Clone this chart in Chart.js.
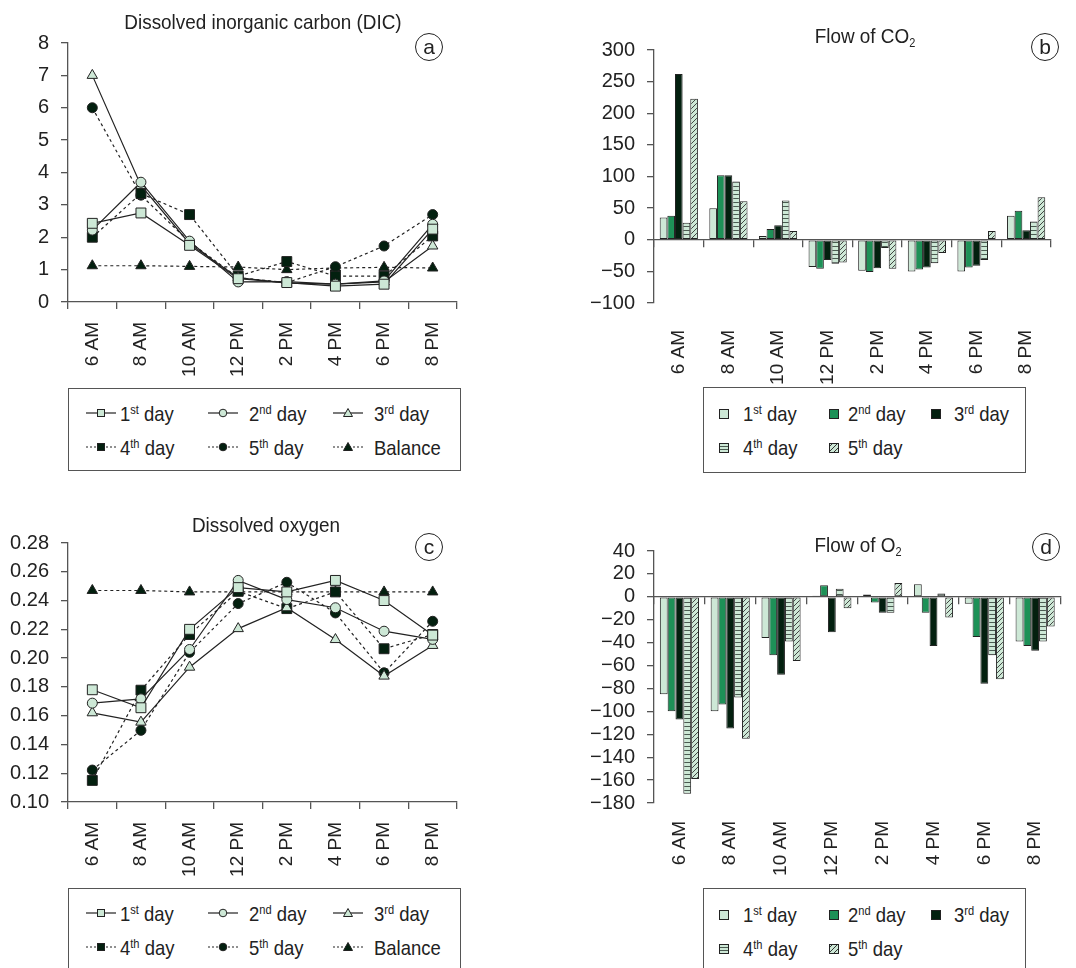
<!DOCTYPE html>
<html>
<head>
<meta charset="utf-8">
<script src="https://cdn.jsdelivr.net/npm/chart.js@4.4.1/dist/chart.umd.min.js"></script>
<style>
  body { margin: 0; background: #fff; width: 1076px; height: 968px; overflow: hidden; position: relative;
         font-family: 'Liberation Sans Narrow', 'Arial Narrow', 'Liberation Sans', Arial, sans-serif; color: #222; }
  .panel { position: absolute; }
  .title { position: absolute; font-size: 21px; white-space: nowrap; transform: translate(-50%, -50%) scaleX(0.9); }
  .title sub { font-size: 58%; vertical-align: -0.35em; }
  .tag { position: absolute; width: 26px; height: 26px; border: 1.3px solid #222; border-radius: 50%;
         transform: translate(-50%, -50%); font-size: 21px; line-height: 25px; text-align: center; background: #fff; }
  .legend { position: absolute; border: 1.5px solid #555; background: #fff; box-sizing: border-box; }
  .item { position: absolute; font-size: 21px; white-space: nowrap; line-height: 24px;
          transform: translateY(-50%) scaleX(0.88); transform-origin: left center; }
  .item sup { font-size: 60%; vertical-align: 0.55em; line-height: 0; }
  .sym { position: absolute; transform: translateY(-50%); }
  .box { position: absolute; width: 8px; height: 8px; border: 1.2px solid #222; transform: translateY(-50%); }
</style>
</head>
<body>
<div class="panel" style="left:0;top:0;width:470px;height:380px"><canvas id="dic"></canvas></div>
<div class="panel" style="left:560px;top:0;width:516px;height:400px"><canvas id="co2"></canvas></div>
<div class="panel" style="left:0;top:500px;width:470px;height:380px"><canvas id="oxy"></canvas></div>
<div class="panel" style="left:560px;top:500px;width:516px;height:400px"><canvas id="o2"></canvas></div>

<div class="title" style="left:263px;top:22px">Dissolved inorganic carbon (DIC)</div>
<div class="title" style="left:865px;top:37px">Flow of CO<sub>2</sub></div>
<div class="title" style="left:266px;top:525px">Dissolved oxygen</div>
<div class="title" style="left:858px;top:546px">Flow of O<sub>2</sub></div>

<div class="tag" style="left:429px;top:47px">a</div>
<div class="tag" style="left:1045px;top:47px">b</div>
<div class="tag" style="left:429px;top:547px">c</div>
<div class="tag" style="left:1046px;top:547px">d</div>

<div class="legend" id="legA" style="left:68px;top:388px;width:393px;height:83px"></div>
<div class="legend" id="legB" style="left:703px;top:387px;width:323px;height:86px"></div>
<div class="legend" id="legC" style="left:68px;top:888px;width:393px;height:83px"></div>
<div class="legend" id="legD" style="left:703px;top:888px;width:323px;height:86px"></div>

<script>
const hours = ['6 AM', '8 AM', '10 AM', '12 PM', '2 PM', '4 PM', '6 PM', '8 PM'];
const lineSeries = ['1st day', '2nd day', '3rd day', '4th day', '5th day', 'Balance'];
const barSeries = ['1st day', '2nd day', '3rd day', '4th day', '5th day'];

// (a) dissolved inorganic carbon
const dicDay1 = [2.43, 2.75, 1.75, 0.72, 0.6, 0.49, 0.55, 2.25];
const dicDay2 = [2.22, 3.7, 1.88, 0.62, 0.63, 0.55, 0.65, 2.4];
const dicDay3 = [7.0, 3.6, 1.8, 0.75, 0.58, 0.55, 0.62, 1.73];
const dicDay4 = [2.0, 3.35, 2.7, 0.8, 1.25, 0.8, 0.8, 2.04];
const dicDay5 = [6.0, 3.3, 1.85, 0.75, 0.6, 1.09, 1.73, 2.7];
const dicBalance = [1.12, 1.12, 1.1, 1.08, 1.0, 1.05, 1.07, 1.05];
const dicTicks = [0, 1, 2, 3, 4, 5, 6, 7, 8];

// (b) flow of CO2
const co2Day1 = [35, 50, 6, -43, -49, -50, -50, 38];
const co2Day2 = [38, 102, 17, -46, -51, -47, -44, 46];
const co2Day3 = [262, 102, 23, -32, -45, -44, -41, 15];
const co2Day4 = [27, 92, 62, -38, -13, -37, -32, 29];
const co2Day5 = [223, 61, 14, -36, -46, -21, 14, 67];
const co2Ticks = [-100, -50, 0, 50, 100, 150, 200, 250, 300];

// (c) dissolved oxygen
const oxyDay1 = [0.178, 0.1655, 0.220, 0.249, 0.246, 0.254, 0.240, 0.216];
const oxyDay2 = [0.1687, 0.1717, 0.206, 0.254, 0.2407, 0.235, 0.2187, 0.213];
const oxyDay3 = [0.162, 0.1555, 0.1937, 0.2205, 0.235, 0.2129, 0.1875, 0.2088];
const oxyDay4 = [0.115, 0.1777, 0.2164, 0.2464, 0.2344, 0.246, 0.2065, 0.2164];
const oxyDay5 = [0.1222, 0.1498, 0.204, 0.2379, 0.2527, 0.2314, 0.1898, 0.2256];
const oxyBalance = [0.247, 0.247, 0.246, 0.246, 0.246, 0.246, 0.246, 0.246];
const oxyTicks = [0.10, 0.12, 0.14, 0.16, 0.18, 0.20, 0.22, 0.24, 0.26, 0.28];

// (d) flow of O2
const o2Day1 = [-85, -100, -36, 1, 2, 11, -6, -39];
const o2Day2 = [-100, -94, -51, 10, -5, -14, -35, -43];
const o2Day3 = [-107, -115, -68, -31, -14, -43, -76, -47];
const o2Day4 = [-172, -88, -39, 7, -14, 3, -51, -39];
const o2Day5 = [-159, -124, -56, -10, 12, -18, -72, -26];
const o2Ticks = [-180, -160, -140, -120, -100, -80, -60, -40, -20, 0, 20, 40];

const INK = '#222';
const AXIS = '#555';
const LIGHT = '#cde8d6';
const GREEN = '#1d9157';
const DARK = '#03200f';
const FONT = "'Liberation Sans Narrow', 'Arial Narrow', 'Liberation Sans', Arial, sans-serif";

Chart.defaults.font.family = FONT;
Chart.defaults.color = INK;

const lineStyles = [
  { shape: 'rect', fill: LIGHT, dash: [], r: 7 },
  { shape: 'circle', fill: LIGHT, dash: [], r: 5 },
  { shape: 'triangle', fill: LIGHT, dash: [], r: 6 },
  { shape: 'rect', fill: DARK, dash: [3, 3], r: 7 },
  { shape: 'circle', fill: DARK, dash: [3, 3], r: 5 },
  { shape: 'triangle', fill: DARK, dash: [3, 3], r: 6 }
];

function stripePattern() {
  const c = document.createElement('canvas');
  c.width = 4; c.height = 4;
  const g = c.getContext('2d');
  g.fillStyle = LIGHT; g.fillRect(0, 0, 4, 4);
  g.fillStyle = '#4a5a50'; g.fillRect(0, 2, 4, 1);
  return g.createPattern(c, 'repeat');
}

function hatchPattern() {
  const c = document.createElement('canvas');
  c.width = 5; c.height = 5;
  const g = c.getContext('2d');
  g.fillStyle = LIGHT; g.fillRect(0, 0, 5, 5);
  g.strokeStyle = '#333'; g.lineWidth = 0.9;
  g.beginPath();
  g.moveTo(0, 5); g.lineTo(5, 0);
  g.moveTo(-1, 1); g.lineTo(1, -1);
  g.moveTo(4, 6); g.lineTo(6, 4);
  g.stroke();
  return g.createPattern(c, 'repeat');
}

const barFills = [LIGHT, GREEN, DARK, stripePattern(), hatchPattern()];

const minus = (v) => String(v).replace('-', '\u2212');

function yScale(ticks, fmt, width) {
  return {
    min: ticks[0],
    max: ticks[ticks.length - 1],
    afterBuildTicks: (s) => { s.ticks = ticks.map((v) => ({ value: v })); },
    grid: { drawOnChartArea: false, tickLength: 7, color: AXIS, lineWidth: 1.3 },
    border: { color: AXIS, width: 1.3 },
    ticks: { autoSkip: false, padding: 12, color: INK, font: { size: 20 }, callback: fmt },
    afterFit: (s) => { s.width = width; }
  };
}

function lineChart(id, series, ticks, fmt) {
  return new Chart(document.getElementById(id), {
    type: 'line',
    data: {
      labels: hours,
      datasets: series.map((d, i) => ({
        label: lineSeries[i],
        data: d,
        borderColor: INK,
        borderWidth: 1.2,
        borderDash: lineStyles[i].dash,
        pointStyle: lineStyles[i].shape,
        pointRadius: lineStyles[i].r,
        pointBackgroundColor: lineStyles[i].fill,
        pointBorderColor: INK,
        pointBorderWidth: 1,
        tension: 0,
        fill: false
      }))
    },
    options: {
      responsive: true,
      maintainAspectRatio: false,
      animation: false,
      layout: { padding: { top: 43, right: 13, left: 0, bottom: 0 } },
      plugins: { legend: { display: false }, tooltip: { enabled: false } },
      scales: {
        x: {
          offset: true,
          grid: { offset: true, drawOnChartArea: false, tickLength: 7, color: AXIS, lineWidth: 1.3 },
          border: { color: AXIS, width: 1.3 },
          ticks: { minRotation: 90, maxRotation: 90, autoSkip: false, padding: 13, color: INK, font: { size: 19 } },
          afterFit: (s) => { s.height = 78; }
        },
        y: yScale(ticks, fmt, 68)
      }
    }
  });
}

function barChart(id, series, ticks, top, labelPad) {
  return new Chart(document.getElementById(id), {
    type: 'bar',
    data: {
      labels: hours,
      datasets: series.map((d, i) => ({
        label: barSeries[i],
        data: d,
        xAxisID: 'x',
        backgroundColor: barFills[i],
        borderColor: INK,
        borderWidth: 1,
        borderSkipped: false,
        categoryPercentage: 0.77,
        barPercentage: 1
      }))
    },
    options: {
      responsive: true,
      maintainAspectRatio: false,
      animation: false,
      layout: { padding: { top: top, right: 1, left: 0, bottom: 0 } },
      plugins: { legend: { display: false }, tooltip: { enabled: false } },
      scales: {
        x: {
          grid: { display: false, drawTicks: false },
          border: { display: false },
          ticks: { minRotation: 90, maxRotation: 90, autoSkip: false, padding: labelPad, color: INK, font: { size: 19 } },
          afterFit: (s) => { s.height = 97; }
        },
        x2: {
          axis: 'x',
          type: 'category',
          position: { y: 0 },
          offset: true,
          grid: { offset: true, drawOnChartArea: false, tickLength: 7, color: AXIS, lineWidth: 1.3 },
          border: { color: AXIS, width: 1.3 },
          ticks: { display: false }
        },
        y: yScale(ticks, minus, 94)
      }
    }
  });
}

lineChart('dic', [dicDay1, dicDay2, dicDay3, dicDay4, dicDay5, dicBalance], dicTicks, (v) => String(v));
barChart('co2', [co2Day1, co2Day2, co2Day3, co2Day4, co2Day5], co2Ticks, 50, 27);
lineChart('oxy', [oxyDay1, oxyDay2, oxyDay3, oxyDay4, oxyDay5, oxyBalance], oxyTicks, (v) => v.toFixed(2));
barChart('o2', [o2Day1, o2Day2, o2Day3, o2Day4, o2Day5], o2Ticks, 51, 18);

// legends
function labelHtml(name) {
  return name.replace(/^(\d+)(st|nd|rd|th)/, '$1<sup>$2</sup>');
}

function lineSymbol(i) {
  const st = lineStyles[i];
  const dash = st.dash.length ? ' stroke-dasharray="2,2"' : '';
  let mark;
  if (st.shape === 'rect') mark = `<rect x="11.5" y="2.5" width="7" height="7" fill="${st.fill}" stroke="${INK}" stroke-width="1"/>`;
  else if (st.shape === 'circle') mark = `<circle cx="15" cy="6" r="3.8" fill="${st.fill}" stroke="${INK}" stroke-width="1"/>`;
  else mark = `<polygon points="15,1.5 19.5,9.5 10.5,9.5" fill="${st.fill}" stroke="${INK}" stroke-width="1"/>`;
  return `<svg width="30" height="12"><line x1="0" y1="6" x2="30" y2="6" stroke="${INK}" stroke-width="1.2"${dash}/>${mark}</svg>`;
}

function buildLineLegend(id) {
  const el = document.getElementById(id);
  const cols = [[17, 51], [139, 180], [264, 305]];
  const rows = [25, 59];
  el.innerHTML = lineSeries.map((name, i) => {
    const c = cols[i % 3], r = rows[Math.floor(i / 3)];
    return `<div class="sym" style="left:${c[0]}px;top:${r}px">${lineSymbol(i)}</div>` +
           `<div class="item" style="left:${c[1]}px;top:${r}px">${labelHtml(name)}</div>`;
  }).join('');
}

function boxStyle(i) {
  if (i === 3) return `background:repeating-linear-gradient(to bottom, ${LIGHT} 0 2px, #4a5a50 2px 3px);`;
  if (i === 4) return `background:repeating-linear-gradient(-45deg, ${LIGHT} 0 2.4px, #333 2.4px 3.4px);`;
  return `background:${[LIGHT, GREEN, DARK][i]};`;
}

function buildBarLegend(id) {
  const el = document.getElementById(id);
  const cols = [[15, 39], [125, 144], [227, 250]];
  const rows = [26, 60];
  el.innerHTML = barSeries.map((name, i) => {
    const c = cols[i % 3], r = rows[Math.floor(i / 3)];
    return `<div class="box" style="left:${c[0]}px;top:${r}px;${boxStyle(i)}"></div>` +
           `<div class="item" style="left:${c[1]}px;top:${r}px">${labelHtml(name)}</div>`;
  }).join('');
}

buildLineLegend('legA');
buildLineLegend('legC');
buildBarLegend('legB');
buildBarLegend('legD');
</script>
</body>
</html>
